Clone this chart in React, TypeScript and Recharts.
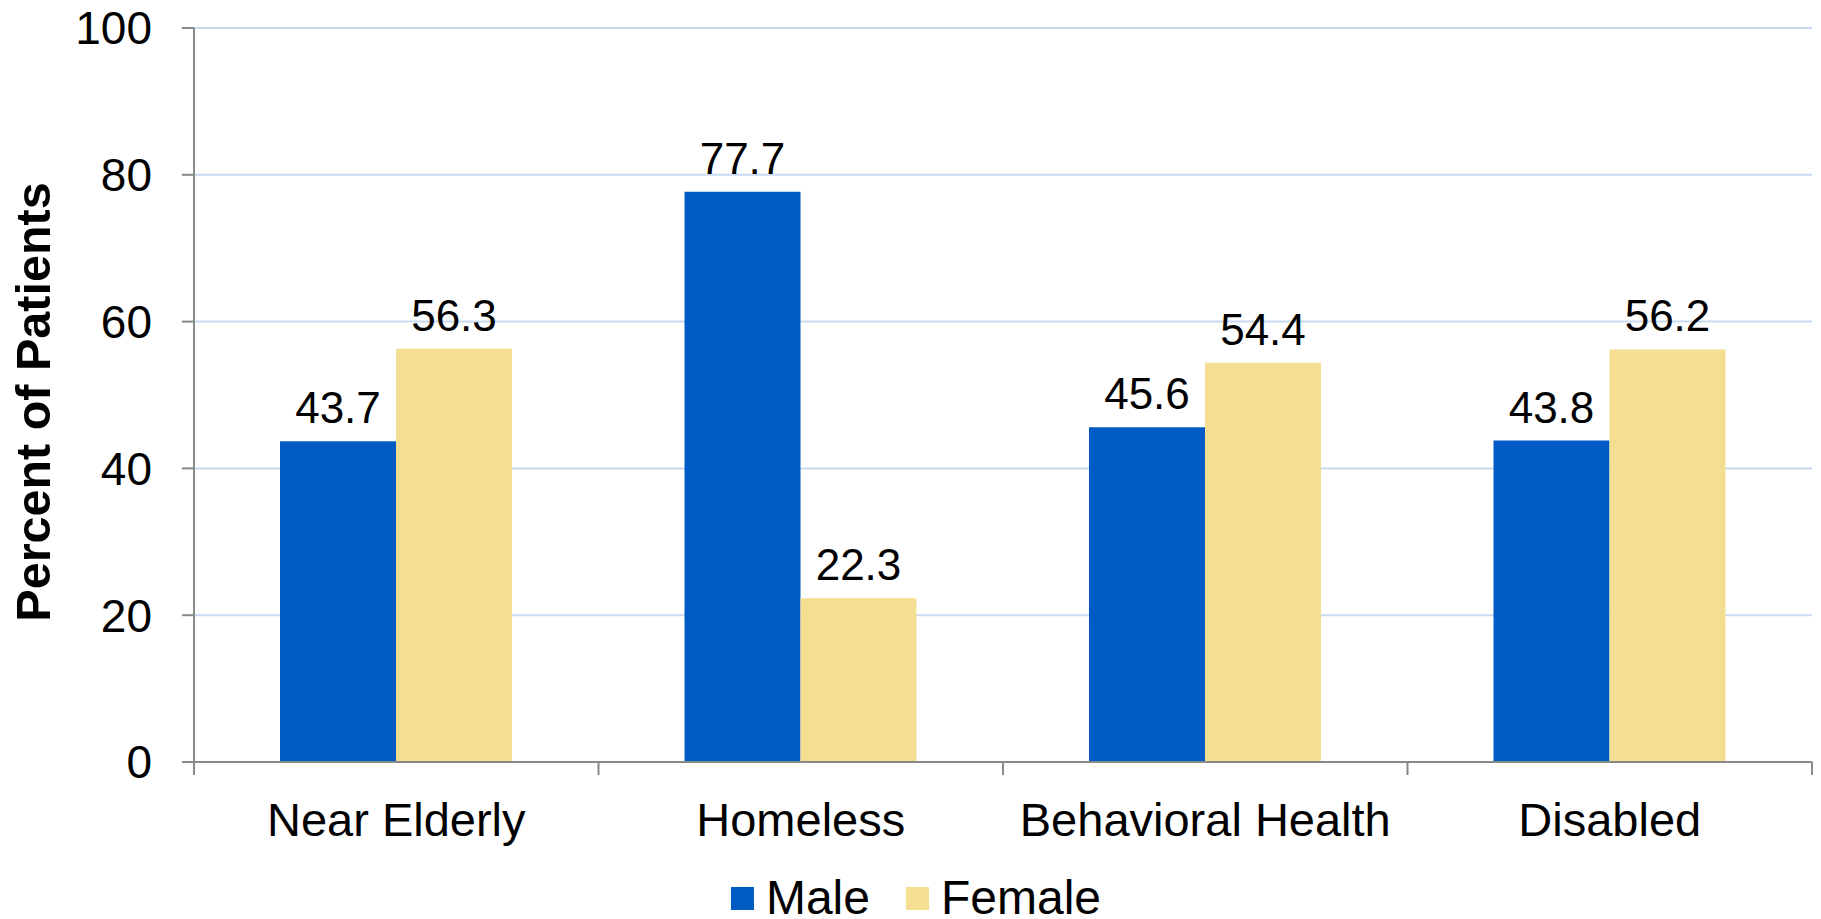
import { BarChart, Bar, XAxis, YAxis, CartesianGrid, Legend, LabelList, Label } from "recharts";

const categories = ["Near Elderly", "Homeless", "Behavioral Health", "Disabled"];
const male = [43.7, 77.7, 45.6, 43.8];
const female = [56.3, 22.3, 54.4, 56.2];
const yTicks = [0, 20, 40, 60, 80, 100];
// boundaries between categories, used for the x-axis tick marks
const edgeTicks = [0, 1, 2, 3, 4];

const data = categories.map((name, i) => ({ name, pos: i + 0.5, Male: male[i], Female: female[i] }));

const FONT = "'Liberation Sans', Arial, sans-serif";
const MALE = "#005BC4";
const FEMALE = "#F4DE92";
const AXIS = "#898989";

function LegendBox() {
  const items = [
    { label: "Male", color: MALE },
    { label: "Female", color: FEMALE },
  ];
  return (
    <div style={{ height: 42, display: "flex", justifyContent: "center", alignItems: "center", gap: 36, paddingLeft: 20, fontFamily: FONT, fontSize: 48 }}>
      {items.map((it) => (
        <div key={it.label} style={{ display: "flex", alignItems: "center", gap: 12 }}>
          <span style={{ width: 23, height: 23, background: it.color, display: "inline-block" }} />
          <span style={{ lineHeight: "42px" }}>{it.label}</span>
        </div>
      ))}
    </div>
  );
}

export default function App() {
  return (
    <div style={{ position: "absolute", left: 0, top: 0, width: 1821, height: 919, background: "#fff" }}>
      <BarChart
        width={1821}
        height={919}
        data={data}
        margin={{ top: 28, right: 9, left: 0, bottom: 0 }}
        barGap={0}
        barSize={116}
      >
        <CartesianGrid xAxisId="b_cat" vertical={false} stroke="#C9DAF0" strokeWidth={2} />
        <XAxis
          xAxisId="a_edge"
          dataKey="pos"
          type="number"
          domain={[0, 4]}
          ticks={edgeTicks}
          allowDataOverflow
          height={1}
          stroke={AXIS}
          strokeWidth={2}
          tickSize={13}
          tick={() => <g />}
          interval={0}
        />
        <XAxis
          xAxisId="b_cat"
          dataKey="name"
          height={114}
          axisLine={false}
          tickLine={false}
          tickMargin={34}
          tick={{ fill: "#000", fontSize: 47, fontFamily: FONT }}
          interval={0}
        />
        <YAxis
          width={194}
          domain={[0, 100]}
          ticks={yTicks}
          stroke={AXIS}
          strokeWidth={2}
          tickSize={12}
          tickMargin={30}
          tick={{ fill: "#000", fontSize: 46, fontFamily: FONT }}
        >
          <Label
            content={() => (
              <text
                x={33}
                y={402}
                transform="rotate(-90, 33, 402)"
                textAnchor="middle"
                dominantBaseline="central"
                fontSize={48.5}
                fontWeight="bold"
                fontFamily={FONT}
                fill="#000"
              >
                Percent of Patients
              </text>
            )}
          />
        </YAxis>
        <Legend verticalAlign="bottom" content={() => <LegendBox />} />
        <Bar xAxisId="b_cat" dataKey="Male" fill={MALE} isAnimationActive={false}>
          <LabelList dataKey="Male" position="top" offset={18} fill="#000" fontSize={44} fontFamily={FONT} />
        </Bar>
        <Bar xAxisId="b_cat" dataKey="Female" fill={FEMALE} isAnimationActive={false}>
          <LabelList dataKey="Female" position="top" offset={18} fill="#000" fontSize={44} fontFamily={FONT} />
        </Bar>
      </BarChart>
    </div>
  );
}
